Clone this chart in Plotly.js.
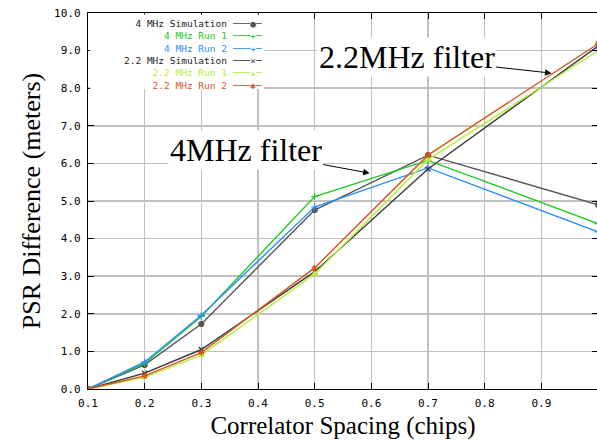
<!DOCTYPE html>
<html>
<head>
<meta charset="utf-8">
<script src="https://cdn.plot.ly/plotly-3.0.1.min.js"></script>
<style>
html,body{margin:0;padding:0;overflow:hidden;background:#fff;}
#chart{width:600px;height:440px;}
</style>
</head>
<body>
<div id="chart"></div>
<script>
// ---- data ----
var spacing = [0.1, 0.2, 0.3, 0.5, 0.7, 1.0];
var sim4MHz  = [0, 0.64, 1.73, 4.76, 6.22, 4.90];
var run1_4MHz = [0, 0.68, 1.93, 5.12, 6.08, 4.40];
var run2_4MHz = [0, 0.72, 1.96, 4.84, 5.88, 4.18];
var sim22MHz  = [0, 0.42, 1.05, 3.12, 5.85, 9.12];
var run1_22MHz = [0, 0.31, 0.90, 3.06, 6.10, 9.00];
var run2_22MHz = [0, 0.35, 0.97, 3.22, 6.22, 9.18];

var seriesNames = ['4 MHz Simulation', '4 MHz Run 1', '4 MHz Run 2',
                   '2.2 MHz Simulation', '2.2 MHz Run 1', '2.2 MHz Run 2'];
var xTitle = 'Correlator Spacing (chips)';
var yTitle = 'PSR Difference (meters)';
var label4 = '4MHz filter';
var label22 = '2.2MHz filter';

// ---- styles ----
var seriesY = [sim4MHz, run1_4MHz, run2_4MHz, sim22MHz, run1_22MHz, run2_22MHz];
var colors = ['#555555', '#22c822', '#2a8cff', '#3a3a3a', '#b4f03c', '#d4561c'];
var textColors = ['#222222', '#22c822', '#2a8cff', '#222222', '#b4f03c', '#d4561c'];
var symbols = ['circle', 'cross-thin-open', 'cross-thin-open', 'x-thin-open', 'triangle-up', 'asterisk-open'];
var sampleGlyph = ['●', '+', '+', '×', '▴', '✱'];

var traces = seriesY.map(function (ys, i) {
  return {
    x: spacing, y: ys, type: 'scatter', mode: 'lines+markers',
    name: seriesNames[i], showlegend: false,
    line: {color: colors[i], width: 1.4},
    marker: {symbol: symbols[i], size: 5, color: colors[i], line: {color: colors[i], width: 1.2}}
  };
});

var mono = 'DejaVu Sans Mono, monospace';
var serif = 'Liberation Serif, Times New Roman, serif';

var plotL = 88, plotW = 510, plotT = 13, plotH = 376;
var legendSize = 9.5;
var legendCenterPx = 54;
var legendY = 1 - (legendCenterPx - plotT) / plotH;

var nameLines = seriesNames.map(function (nm, i) {
  return '<span style="color:' + textColors[i] + '">' + nm + '</span>';
}).join('<br>');
var sampleLines = seriesNames.map(function (nm, i) {
  return '<span style="color:' + colors[i] + '">───' + sampleGlyph[i] + '─</span>';
}).join('<br>');

var annotations = [
  {
    xref: 'paper', yref: 'paper', x: (228 - plotL) / plotW, y: legendY,
    xanchor: 'right', yanchor: 'middle', align: 'right', showarrow: false,
    borderpad: 0, text: nameLines, font: {family: mono, size: legendSize, color: '#222'}
  },
  {
    xref: 'paper', yref: 'paper', x: (231 - plotL) / plotW, y: legendY,
    xanchor: 'left', yanchor: 'middle', align: 'left', showarrow: false,
    borderpad: 0, text: sampleLines, font: {family: mono, size: legendSize, color: '#222'}
  },
  {
    x: 0.597, y: 5.74, xref: 'x', yref: 'y', text: label4,
    showarrow: true, arrowhead: 2, arrowsize: 1.3, arrowwidth: 1, arrowcolor: '#000',
    ax: -124, ay: -23, bgcolor: '#ffffff', borderpad: 1,
    font: {family: serif, size: 32, color: '#000'}
  },
  {
    x: 0.918, y: 8.40, xref: 'x', yref: 'y', text: label22,
    showarrow: true, arrowhead: 2, arrowsize: 1.3, arrowwidth: 1, arrowcolor: '#000',
    ax: -145, ay: -16, bgcolor: '#ffffff', borderpad: 1,
    font: {family: serif, size: 32, color: '#000'}
  }
];

var layout = {
  width: 600, height: 440,
  margin: {l: plotL, r: 2, t: plotT, b: 440 - plotT - plotH},
  paper_bgcolor: '#fff', plot_bgcolor: '#fff',
  showlegend: false,
  xaxis: {
    range: [0.1, 1.0], tick0: 0.1, dtick: 0.1, showgrid: true,
    gridcolor: '#c0c0c0', gridwidth: 1.5, zeroline: false,
    showline: true, linecolor: '#000', linewidth: 1.2, mirror: 'ticks',
    ticks: 'inside', ticklen: 6, tickcolor: '#000', tickwidth: 1,
    tickfont: {family: mono, size: 11, color: '#000'}, ticklabelstandoff: 4,
    title: {text: xTitle, font: {family: serif, size: 25, color: '#000'}, standoff: 8}
  },
  yaxis: {
    range: [0, 10], dtick: 1, tickformat: '.1f', showgrid: true,
    gridcolor: '#c0c0c0', gridwidth: 1.5, zeroline: false,
    showline: true, linecolor: '#000', linewidth: 1.2, mirror: 'ticks',
    ticks: 'inside', ticklen: 6, tickcolor: '#000', tickwidth: 1,
    tickfont: {family: mono, size: 11, color: '#000'}, ticklabelstandoff: 4,
    title: {text: yTitle, font: {family: serif, size: 26, color: '#000'}, standoff: 6}
  },
  shapes: [{
    type: 'rect', xref: 'paper', yref: 'paper',
    x0: 0.004, x1: (264 - plotL) / plotW, y0: 1 - (89 - plotT) / plotH, y1: 0.996,
    fillcolor: '#ffffff', line: {width: 0}, layer: 'above'
  }],
  annotations: annotations
};

Plotly.newPlot('chart', traces, layout, {displayModeBar: false, staticPlot: true});
</script>
</body>
</html>
